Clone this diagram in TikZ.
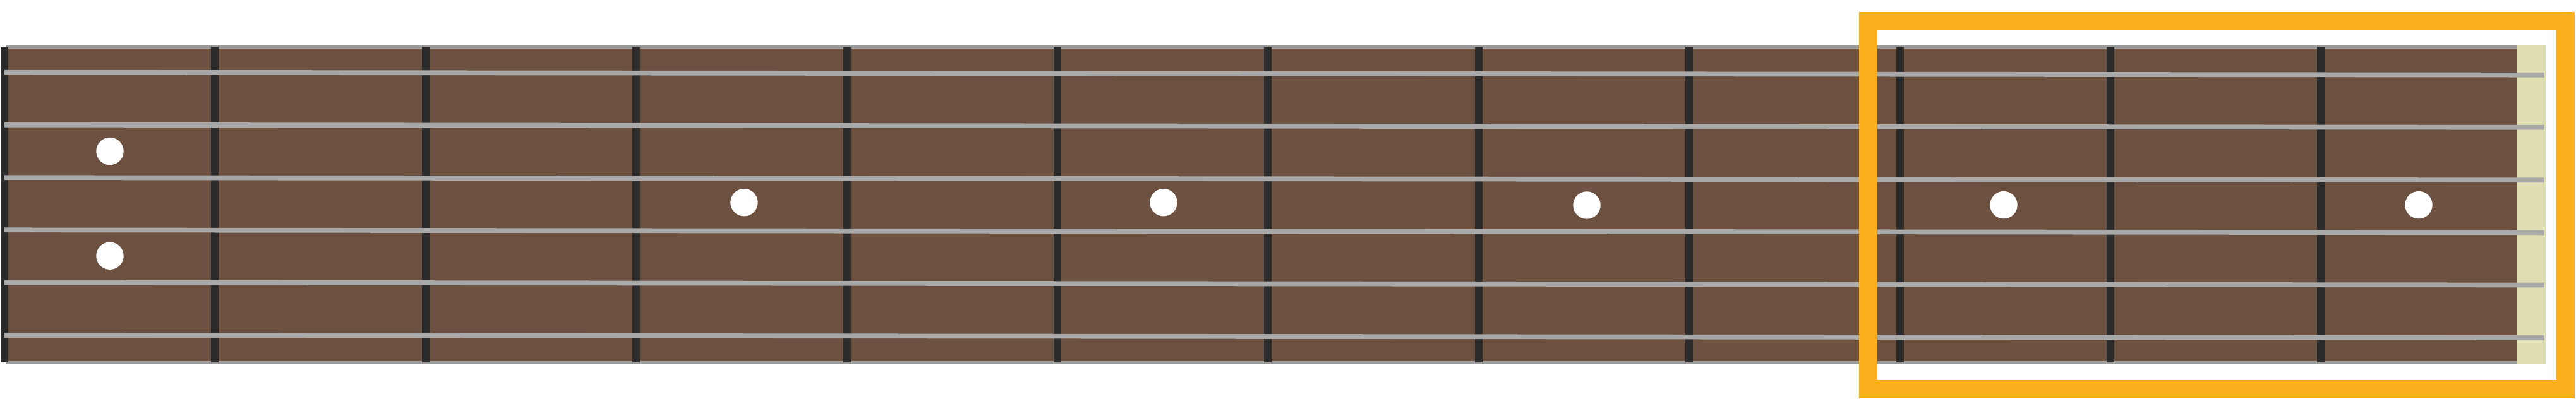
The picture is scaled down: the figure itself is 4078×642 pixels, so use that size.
\documentclass[tikz,border=0pt]{standalone}
\usepackage{tikz}
\definecolor{boardBrown}{HTML}{6C5141}
\definecolor{fretDark}{HTML}{2B2B2B}
\definecolor{stringGray}{HTML}{A9A9A9}
\definecolor{edgeGray}{HTML}{9A9A9A}
\definecolor{nutCream}{HTML}{E0DFB4}
\definecolor{focusOrange}{HTML}{FCAF1C}

\begin{document}
\begin{tikzpicture}[x=0.01cm,y=-0.01cm,
    fretbar/.style={fill=fretDark},
    guitarstring/.style={draw=stringGray,line width=0.077cm},
    inlay/.style={fill=white}]
  \useasboundingbox (0,0) rectangle (4078,642);
  \fill[edgeGray] (9,72.3) rectangle (3984,576.3);
  \fill[boardBrown] (9,76.7) rectangle (3984,571.8);
  \fill[nutCream] (3984,72.3) rectangle (4030,576.3);
  \foreach \k in {0,...,11}
    \fill[fretbar] ({1+333.4*\k},75) rectangle ({13+333.4*\k},574);
  \foreach \x/\y in {174/239.5,174/405.2,1178/320.7,1842/320.7,2512/325,3172/324.6,3829/324.6}
    \fill[inlay] (\x,\y) circle[radius=0.217cm];
  \foreach \y in {114.6,197.7,281.2,364.3,447.4,530.9}
    \draw[guitarstring] (7,\y) -- (4028,\y+4.1);
  \draw[focusOrange,line width=0.29cm] (2957.5,33.2) rectangle (4061.5,616);
\end{tikzpicture}
\end{document}
